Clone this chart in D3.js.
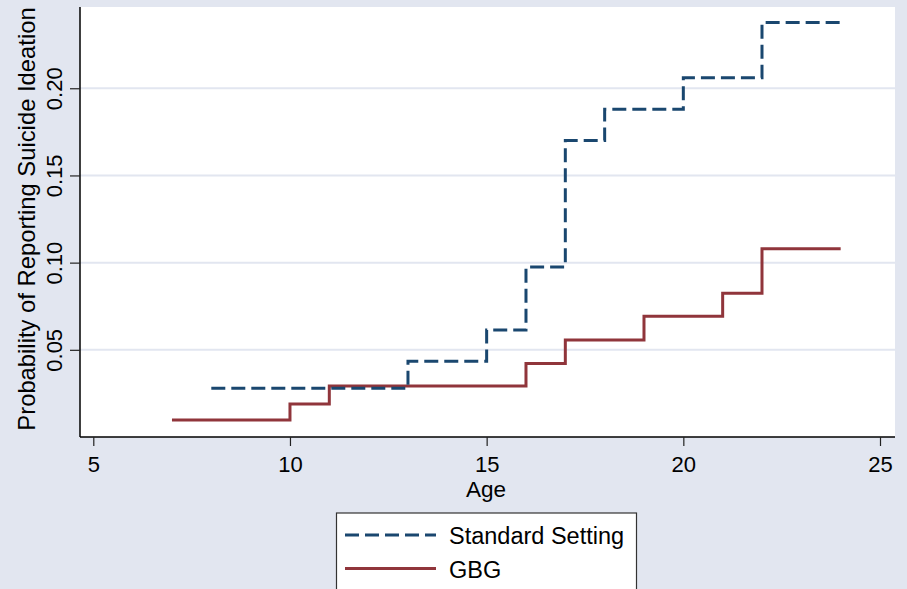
<!DOCTYPE html>
<html>
<head>
<meta charset="utf-8">
<script src="https://cdn.jsdelivr.net/npm/d3@7/dist/d3.min.js"></script>
<style>
  html, body { margin: 0; padding: 0; background: #e2e6f0; }
  svg { display: block; }
  text { font-family: "Liberation Sans", Arial, Helvetica, sans-serif; fill: #000; }
</style>
</head>
<body>
<svg id="chart" width="907" height="589"></svg>
<script>
// ---- data ----
const standardAges = [8, 9, 10, 11, 12, 13, 14, 15, 16, 17, 18, 19, 20, 21, 22, 23, 24];
const standardProb = [0.028, 0.028, 0.028, 0.028, 0.028, 0.0435, 0.0435, 0.0613, 0.0975, 0.170, 0.188, 0.188, 0.206, 0.206, 0.2377, 0.2377, 0.2377];
const gbgAges = [7, 8, 9, 10, 11, 12, 13, 14, 15, 16, 17, 18, 19, 20, 21, 22, 23, 24];
const gbgProb = [0.0097, 0.0097, 0.0097, 0.0189, 0.0292, 0.0292, 0.0292, 0.0292, 0.0292, 0.0422, 0.0556, 0.0556, 0.0693, 0.0693, 0.0825, 0.108, 0.108, 0.108];
const xTicks = [5, 10, 15, 20, 25];
const yTicks = [0.05, 0.10, 0.15, 0.20];
const seriesNames = ["Standard Setting", "GBG"];
const xTitle = "Age";
const yTitle = "Probability of Reporting Suicide Ideation";

// ---- layout ----
const svg = d3.select("#chart");
const W = 907, H = 589;
const plot = { left: 80, right: 895, top: 7, bottom: 437 };
const navy = "#1a476f", maroon = "#90353b", bg = "#e2e6f0";

svg.append("rect").attr("width", W).attr("height", H).attr("fill", bg);

const x = d3.scaleLinear()
  .domain([5 - (93.3 - plot.left) / 39.35, 25 + (plot.right - 880) / 39.35])
  .range([plot.left, plot.right]);
const y = d3.scaleLinear()
  .domain([0, 0.2466])
  .range([plot.bottom, plot.top]);

// plot area
svg.append("rect")
  .attr("x", plot.left).attr("y", plot.top)
  .attr("width", plot.right - plot.left).attr("height", plot.bottom - plot.top)
  .attr("fill", "#ffffff");

// gridlines
svg.append("g").selectAll("line").data(yTicks).join("line")
  .attr("x1", plot.left).attr("x2", plot.right)
  .attr("y1", d => y(d)).attr("y2", d => y(d))
  .attr("stroke", bg).attr("stroke-width", 2);

// lines
const line = d3.line().curve(d3.curveStepAfter).x(d => x(d[0])).y(d => y(d[1]));
const std = standardAges.map((a, i) => [a, standardProb[i]]);
const gbg = gbgAges.map((a, i) => [a, gbgProb[i]]);

svg.append("path").datum(gbg)
  .attr("d", line).attr("fill", "none")
  .attr("stroke", maroon).attr("stroke-width", 3);
svg.append("path").datum(std)
  .attr("d", line).attr("fill", "none")
  .attr("stroke", navy).attr("stroke-width", 3)
  .attr("stroke-dasharray", "14,6");

// axes
const xAxis = d3.axisBottom(x).tickValues(xTicks).tickSize(9).tickPadding(8).tickFormat(d3.format("d"));
const gx = svg.append("g").attr("transform", `translate(0,${plot.bottom})`).call(xAxis);
gx.select(".domain").attr("d", `M${plot.left},0H${plot.right}`).attr("stroke", "#000").attr("stroke-width", 1.5);
gx.selectAll(".tick line").attr("stroke", "#222").attr("stroke-width", 1.2);
gx.selectAll(".tick text").attr("font-size", 22).attr("font-family", "Liberation Sans, Arial, sans-serif")
  .attr("fill", "#000").attr("dy", null).attr("y", 34.5);

const yAxis = d3.axisLeft(y).tickValues(yTicks).tickSize(10).tickFormat(d3.format(".2f"));
const gy = svg.append("g").attr("transform", `translate(${plot.left},0)`).call(yAxis);
gy.select(".domain").attr("d", `M0,${plot.top}V${plot.bottom}`).attr("stroke", "#000").attr("stroke-width", 1.5);
gy.selectAll(".tick line").attr("stroke", "#222").attr("stroke-width", 1.2);
gy.selectAll(".tick text")
  .attr("font-size", 22).attr("font-family", "Liberation Sans, Arial, sans-serif").attr("fill", "#000")
  .attr("x", null).attr("dy", null)
  .attr("text-anchor", "middle")
  .attr("transform", "translate(-18.5,0) rotate(-90)");

// axis titles
svg.append("text").attr("x", 486).attr("y", 497).attr("text-anchor", "middle")
  .attr("font-size", 22.5).text(xTitle);
svg.append("text").attr("transform", `translate(35,${(plot.top + plot.bottom) / 2 - 3}) rotate(-90)`)
  .attr("text-anchor", "middle").attr("font-size", 23.8).text(yTitle);

// legend
const lg = svg.append("g");
lg.append("rect").attr("x", 336.5).attr("y", 513).attr("width", 300).attr("height", 100)
  .attr("fill", "#fff").attr("stroke", "#333").attr("stroke-width", 1.2);
const legendRows = [
  { name: seriesNames[0], color: navy, dash: "14,6", y: 535 },
  { name: seriesNames[1], color: maroon, dash: null, y: 568.5 }
];
legendRows.forEach(r => {
  lg.append("line").attr("x1", 345).attr("x2", 436).attr("y1", r.y).attr("y2", r.y)
    .attr("stroke", r.color).attr("stroke-width", 3)
    .attr("stroke-dasharray", r.dash);
  lg.append("text").attr("x", 449).attr("y", r.y + 9).attr("font-size", 23.5).text(r.name);
});
</script>
</body>
</html>
